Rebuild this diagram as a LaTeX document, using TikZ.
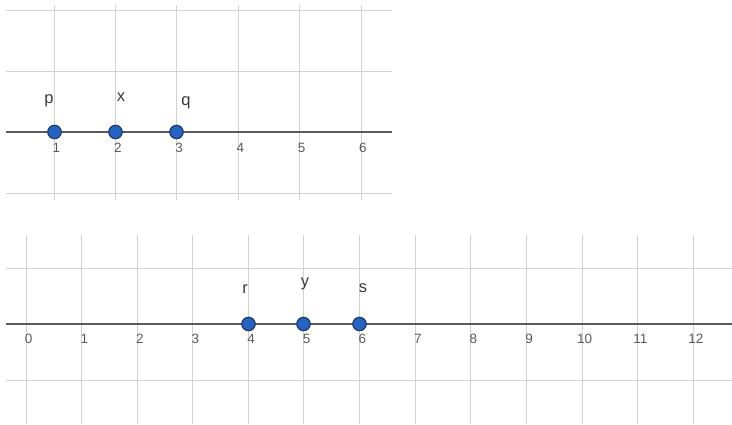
\documentclass[tikz,border=0pt]{standalone}
\usepackage{fontspec}
\setmainfont{Liberation Sans}
\definecolor{gridc}{HTML}{D2D2D2}
\definecolor{axisc}{HTML}{5A5A5A}
\definecolor{dotfill}{HTML}{2563C0}
\definecolor{dotline}{HTML}{1B3A6B}
\definecolor{txt}{HTML}{3A3A3A}
\definecolor{numc}{HTML}{5A5A5A}
\tikzset{
  gridline/.style={draw=gridc, line width=1.2pt},
  axisline/.style={draw=axisc, line width=1.6pt},
  ptdot/.style={circle, fill=dotfill, draw=dotline, line width=1.1pt, minimum size=13.5pt, inner sep=0pt},
  ptlabel/.style={text=txt, font=\fontsize{16.5}{16.5}\selectfont, inner sep=0pt},
  numlabel/.style={text=numc, font=\fontsize{13.5}{13.5}\selectfont, inner sep=0pt}
}
\begin{document}
\begin{tikzpicture}[x=1pt,y=-1pt]
\useasboundingbox (0,0) rectangle (732,424);
% ---------- top panel ----------
\foreach \xx in {54.5,115.5,176.5,238.5,299.5,361.5}{
  \draw[gridline] (\xx,5) -- (\xx,200);
}
\foreach \yy in {10.5,71.5,193.5}{
  \draw[gridline] (6,\yy) -- (392,\yy);
}
\coordinate (ta) at (6,132);
\coordinate (tb) at (392,132);
\draw[axisline] (ta) -- (tb);
\foreach \k in {1,...,6}{
  \node[numlabel] (tn\k) at ({54.5+61.3*(\k-1)+2},147.5) {\k};
}
\node[ptdot] (P) at (54.5,132) {};
\node[ptdot] (X) at (115.5,132) {};
\node[ptdot] (Q) at (176.5,132) {};
\node[ptlabel] (lp) at (49,101) {p};
\node[ptlabel] (lx) at (121,97) {x};
\node[ptlabel] (lq) at (186,103) {q};
% ---------- bottom panel ----------
\foreach \xx in {26.5,81.5,137.5,192.5,248.5,303.5,359.5,415.5,470.5,526.5,582.5,637.5,693.5}{
  \draw[gridline] (\xx,235) -- (\xx,424);
}
\foreach \yy in {268.5,380.5}{
  \draw[gridline] (6,\yy) -- (732,\yy);
}
\coordinate (ba) at (6,324);
\coordinate (bb) at (732,324);
\draw[axisline] (ba) -- (bb);
\foreach \k in {0,...,12}{
  \node[numlabel] (bn\k) at ({26.7+55.6*\k+2},338.5) {\k};
}
\node[ptdot] (R) at (248.5,324) {};
\node[ptdot] (Y) at (303.5,324) {};
\node[ptdot] (S) at (359.5,324) {};
\node[ptlabel] (lr) at (245,289) {r};
\node[ptlabel] (ly) at (305,284) {y};
\node[ptlabel] (ls) at (363,288) {s};
\end{tikzpicture}
\end{document}
